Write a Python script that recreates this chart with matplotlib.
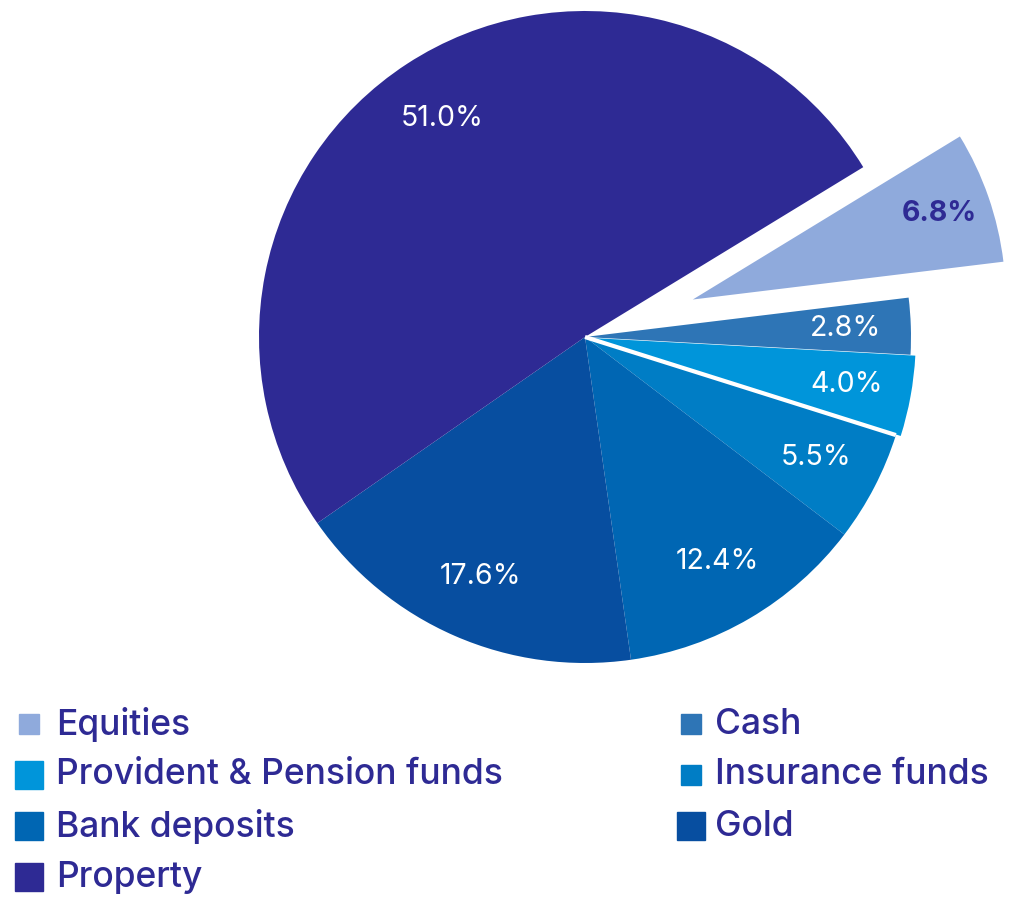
import numpy as np
import matplotlib.pyplot as plt
from matplotlib.lines import Line2D

plt.rcParams['font.family'] = ['Inter', 'DejaVu Sans']

# Data
categories = ['Equities', 'Cash', 'Provident & Pension funds', 'Insurance funds',
              'Bank deposits', 'Gold', 'Property']
shares = [6.8, 2.8, 4.0, 5.5, 12.4, 17.6, 51.0]
colors = ['#8FAADC', '#2E75B6', '#0095DA', '#007DC5', '#0066B3', '#074EA0', '#2E2A94']
explode = [0.35, 0, 0.015, 0, 0, 0, 0]
navy = '#2E2A94'

W, H = 1026, 899
cx, cy, R = 585, 337, 326  # pie centre and radius in pixels

fig = plt.figure(figsize=(W / 100, H / 100), dpi=100)
ax = fig.add_axes([0, 0, 1, 1])

wedges, texts, autotexts = ax.pie(
    shares, colors=colors, explode=explode, startangle=31.4, counterclock=False,
    autopct='%1.1f%%', pctdistance=0.8,
    wedgeprops=dict(linewidth=0),
    textprops=dict(color='white', fontsize=20.5))

# labels show the given values, not renormalised ones
for t, v in zip(autotexts, shares):
    t.set_text(f'{v:.1f}%')
autotexts[0].set_color(navy)
autotexts[0].set_fontweight('bold')

# equities wedge a bit shorter
wedges[0].set_radius(0.96)

# white separator between provident and insurance slices
a = np.deg2rad(wedges[2].theta1)
ax.plot([0, np.cos(a)], [0, np.sin(a)], color='white', lw=3, solid_capstyle='butt')

ax.set_aspect('auto')
ax.set_xlim(-cx / R, (W - cx) / R)
ax.set_ylim(-(H - cy) / R, cy / R)
ax.axis('off')

# legend, two columns filled row by row
big = {2, 4, 5, 6}
col_marker = [29, 691]
col_text = [56, 715]
for i, (name, c) in enumerate(zip(categories, colors)):
    row, col = i // 2, i % 2
    y = 1 - (724 + 51 * row) / H
    ms = 19.5 if i in big else 14.5
    fig.add_artist(Line2D([col_marker[col] / W], [y], marker='s', markersize=ms,
                          color=c, linestyle='none', transform=fig.transFigure))
    fig.text(col_text[col] / W, y, name, color=navy, fontsize=25.5, fontweight='medium',
             ha='left', va='center')

fig.savefig('out.png', dpi=100)
